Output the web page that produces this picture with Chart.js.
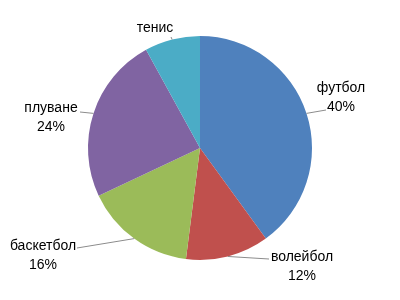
<!DOCTYPE html>
<html>
<head>
<meta charset="utf-8">
<script src="https://cdn.jsdelivr.net/npm/chart.js@4/dist/chart.umd.min.js"></script>
<style>
html,body{margin:0;padding:0;background:#fff;}
#wrap{width:400px;height:300px;}
</style>
</head>
<body>
<div id="wrap"><canvas id="c" width="400" height="300"></canvas></div>
<script>
// Data
const categories = ['футбол', 'волейбол', 'баскетбол', 'плуване', 'тенис'];
const values = [40, 12, 16, 24, 8];
const showPercent = [true, true, true, true, false];
const colors = ['#4F81BD', '#C0504D', '#9BBB59', '#8064A2', '#4BACC6'];

// Label layout (text centre of first line, leader line end point near the text)
const labelLayout = [
  {x: 341, y: 88, lx: 326, ly: 110},
  {x: 302, y: 257, lx: 269, ly: 259},
  {x: 43, y: 246, lx: 77, ly: 248},
  {x: 51, y: 108, lx: 80, ly: 112},
  {x: 155, y: 28, lx: 171, ly: 37}
];

const total = values.reduce((a, b) => a + b, 0);

const labelPlugin = {
  id: 'outLabels',
  afterDatasetsDraw(chart) {
    const ctx = chart.ctx;
    const meta = chart.getDatasetMeta(0);
    ctx.save();
    meta.data.forEach((arc, i) => {
      const p = arc.getProps(['x', 'y', 'startAngle', 'endAngle', 'outerRadius'], true);
      const mid = (p.startAngle + p.endAngle) / 2;
      const ex = p.x + Math.cos(mid) * p.outerRadius;
      const ey = p.y + Math.sin(mid) * p.outerRadius;
      const L = labelLayout[i];
      ctx.strokeStyle = '#8C8C8C';
      ctx.lineWidth = 1;
      ctx.beginPath();
      ctx.moveTo(ex, ey);
      ctx.lineTo(L.lx, L.ly);
      ctx.stroke();
      ctx.fillStyle = '#000';
      ctx.font = '14px "Liberation Sans", Arial, sans-serif';
      ctx.textAlign = 'center';
      ctx.textBaseline = 'middle';
      ctx.fillText(categories[i], L.x, L.y);
      if (showPercent[i]) {
        const pct = Math.round(values[i] / total * 100) + '%';
        ctx.fillText(pct, L.x, L.y + 19);
      }
    });
    ctx.restore();
  }
};

new Chart(document.getElementById('c'), {
  type: 'pie',
  data: {
    labels: categories,
    datasets: [{
      data: values,
      backgroundColor: colors,
      borderWidth: 0
    }]
  },
  options: {
    responsive: false,
    animation: false,
    layout: {padding: {top: 36, bottom: 40, left: 88, right: 88}},
    plugins: {
      legend: {display: false},
      tooltip: {enabled: false}
    }
  },
  plugins: [labelPlugin]
});
</script>
</body>
</html>
